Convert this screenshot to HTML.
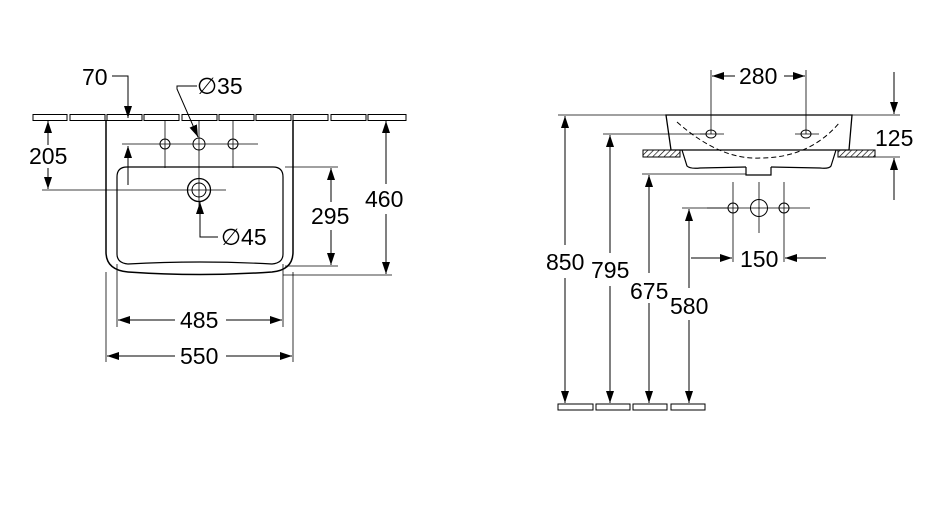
<!DOCTYPE html>
<html><head><style>
html,body{margin:0;padding:0;background:#fff;}
svg{display:block;}
text{font-family:"Liberation Sans","DejaVu Sans",sans-serif;font-size:23px;fill:#000;}
</style></head><body>
<svg width="928" height="527" viewBox="0 0 928 527" xmlns="http://www.w3.org/2000/svg">
<defs>
<marker id="a" viewBox="0 0 12 10" refX="12" refY="5" markerWidth="12" markerHeight="10" markerUnits="userSpaceOnUse" orient="auto"><path d="M0,1 L12,5 L0,9 z" fill="#000"/></marker>
<pattern id="h" width="4" height="4" patternUnits="userSpaceOnUse" patternTransform="rotate(45)"><line x1="0" y1="0" x2="0" y2="4" stroke="#000" stroke-width="1.3"/></pattern>
</defs>
<g stroke="#000" fill="none" stroke-width="1">
<g stroke-width="1">
<rect x="33" y="114.5" width="34" height="6"/><rect x="70" y="114.5" width="35" height="6"/><rect x="107" y="114.5" width="35" height="6"/><rect x="144" y="114.5" width="35" height="6"/><rect x="182" y="114.5" width="35" height="6"/><rect x="219" y="114.5" width="35" height="6"/><rect x="256" y="114.5" width="35" height="6"/><rect x="293" y="114.5" width="35" height="6"/><rect x="331" y="114.5" width="35" height="6"/><rect x="368" y="114.5" width="38" height="6"/>
</g>
<path d="M106,120 L106,252 Q106,270 128,272 Q200,277 272,272 Q293,270 293,252 L293,120" stroke-width="1.5"/>
<path d="M127,167 L273,167 Q283,167 283,177 L283,254 Q283,263 272,264 Q200,260 128,264 Q117,263 117,254 L117,177 Q117,167 127,167 Z" stroke-width="1.2"/>
<line x1="122" y1="144" x2="258" y2="144" stroke-width="0.8"/>
<line x1="165" y1="120" x2="165" y2="168" stroke-width="0.8"/>
<line x1="233" y1="120" x2="233" y2="168" stroke-width="0.8"/>
<line x1="199" y1="120" x2="199" y2="210" stroke-width="0.8"/>
<line x1="42" y1="190" x2="226" y2="190" stroke-width="0.8"/>
<circle cx="165" cy="144" r="5"/><circle cx="233" cy="144" r="5"/><circle cx="199" cy="144" r="6"/>
<circle cx="199" cy="190" r="11.5" stroke-width="1.3"/><circle cx="199" cy="190" r="7"/>
<polyline points="112,76 128,76 128,118" marker-end="url(#a)"/>
<line x1="128" y1="185" x2="128" y2="146" marker-end="url(#a)"/>
<polyline points="197,86 177,86 177,89 198,137" marker-end="url(#a)"/>
<polyline points="218,237 200,237 200,202" marker-end="url(#a)"/>
<line x1="48" y1="145" x2="48" y2="121" marker-end="url(#a)"/>
<line x1="48" y1="168" x2="48" y2="189" marker-end="url(#a)"/>
<line x1="285" y1="167" x2="338" y2="167" stroke-width="0.8"/>
<line x1="285" y1="266" x2="338" y2="266" stroke-width="0.8"/>
<line x1="331" y1="202" x2="331" y2="168" marker-end="url(#a)"/>
<line x1="331" y1="230" x2="331" y2="265" marker-end="url(#a)"/>
<line x1="283" y1="275" x2="392" y2="275" stroke-width="0.8"/>
<line x1="386" y1="184" x2="386" y2="121" marker-end="url(#a)"/>
<line x1="386" y1="214" x2="386" y2="274" marker-end="url(#a)"/>
<line x1="117" y1="264" x2="117" y2="327" stroke-width="0.8"/>
<line x1="283" y1="264" x2="283" y2="327" stroke-width="0.8"/>
<line x1="106" y1="272" x2="106" y2="362" stroke-width="0.8"/>
<line x1="293" y1="272" x2="293" y2="362" stroke-width="0.8"/>
<line x1="175" y1="320" x2="118" y2="320" marker-end="url(#a)"/>
<line x1="226" y1="320" x2="282" y2="320" marker-end="url(#a)"/>
<line x1="175" y1="356" x2="107" y2="356" marker-end="url(#a)"/>
<line x1="226" y1="356" x2="292" y2="356" marker-end="url(#a)"/>

<line x1="558" y1="115" x2="666" y2="115" stroke-width="0.8"/>
<path d="M666,115 L852,115 L849,150 L671,150 Z" stroke-width="1.3"/>
<path d="M682,150 L687,166 Q690,169 700,168 L746,167 M771,167 L820,168 Q829,169 831,166 L836,150" stroke-width="1.2"/>
<path d="M746,167 L746,175 L771,175 L771,167" stroke-width="1.2"/>
<rect x="643" y="150" width="37" height="7" fill="url(#h)"/>
<rect x="838" y="150" width="37" height="7" fill="url(#h)"/>
<path d="M677,122 Q720,160 760,158 Q810,158 840,122" stroke-dasharray="5,3"/>
<ellipse cx="711" cy="134" rx="5" ry="4"/><ellipse cx="806" cy="134" rx="5" ry="4"/>
<line x1="700" y1="134" x2="724" y2="134" stroke-width="0.8"/><line x1="795" y1="134" x2="819" y2="134" stroke-width="0.8"/>
<line x1="711" y1="70" x2="711" y2="134" stroke-width="0.8"/>
<line x1="806" y1="70" x2="806" y2="134" stroke-width="0.8"/>
<line x1="735" y1="76" x2="712" y2="76" marker-end="url(#a)"/>
<line x1="784" y1="76" x2="805" y2="76" marker-end="url(#a)"/>
<line x1="852" y1="115" x2="900" y2="115" stroke-width="0.8"/>
<line x1="875" y1="157" x2="900" y2="157" stroke-width="0.8"/>
<line x1="894" y1="72" x2="894" y2="114" marker-end="url(#a)"/>
<line x1="894" y1="200" x2="894" y2="158" marker-end="url(#a)"/>
<line x1="603" y1="134" x2="706" y2="134" stroke-width="0.8"/>
<line x1="642" y1="174" x2="746" y2="174" stroke-width="0.8"/>
<line x1="682" y1="208" x2="728" y2="208" stroke-width="0.8"/>
<line x1="565" y1="245" x2="565" y2="116" marker-end="url(#a)"/>
<line x1="565" y1="278" x2="565" y2="403" marker-end="url(#a)"/>
<line x1="610" y1="253" x2="610" y2="135" marker-end="url(#a)"/>
<line x1="610" y1="286" x2="610" y2="403" marker-end="url(#a)"/>
<line x1="649" y1="273" x2="649" y2="175" marker-end="url(#a)"/>
<line x1="649" y1="303" x2="649" y2="403" marker-end="url(#a)"/>
<line x1="689" y1="288" x2="689" y2="209" marker-end="url(#a)"/>
<line x1="689" y1="320" x2="689" y2="403" marker-end="url(#a)"/>
<rect x="558" y="404" width="35" height="6"/><rect x="596" y="404" width="34" height="6"/><rect x="633" y="404" width="34" height="6"/><rect x="671" y="404" width="34" height="6"/>
<line x1="707" y1="208" x2="810" y2="208" stroke-width="0.8"/>
<line x1="733" y1="182" x2="733" y2="262" stroke-width="0.8"/>
<line x1="784" y1="182" x2="784" y2="262" stroke-width="0.8"/>
<line x1="759" y1="182" x2="759" y2="233" stroke-width="0.8"/>
<circle cx="733" cy="208" r="5"/><circle cx="784" cy="208" r="5"/><circle cx="759" cy="208" r="8.5"/>
<line x1="691" y1="258" x2="732" y2="258" marker-end="url(#a)"/>
<line x1="826" y1="258" x2="785" y2="258" marker-end="url(#a)"/>
</g>
<g>
<text x="82" y="85">70</text>
<text x="197" y="94">∅35</text>
<text x="221" y="245">∅45</text>
<text x="29" y="164">205</text>
<text x="311" y="224">295</text>
<text x="365" y="207">460</text>
<text x="180" y="328">485</text>
<text x="180" y="364">550</text>
<text x="739" y="84">280</text>
<text x="875" y="146">125</text>
<text x="546" y="270">850</text>
<text x="591" y="278">795</text>
<text x="630" y="299">675</text>
<text x="670" y="314">580</text>
<text x="740" y="267">150</text>
</g>
</svg>
</body></html>
